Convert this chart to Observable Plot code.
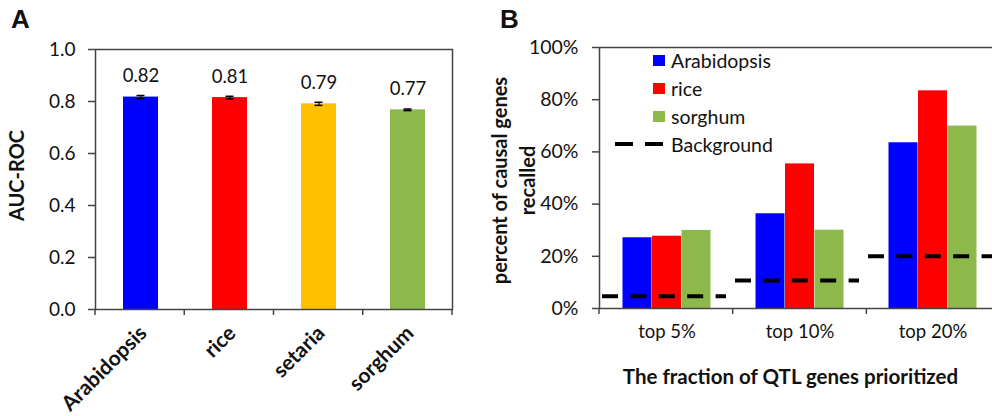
<!DOCTYPE html>
<html>
<head>
<meta charset="utf-8">
<script src="https://cdn.jsdelivr.net/npm/d3@7"></script>
<script src="https://cdn.jsdelivr.net/npm/@observablehq/plot@0.6"></script>
<style>
  html, body { margin: 0; padding: 0; background: #fff; }
  #wrap { position: relative; width: 992px; height: 416px; overflow: hidden; background: #fff; font-family: Lato, sans-serif; color: #111; }
  .panel { position: absolute; top: 0; height: 416px; }
  .panel svg { max-width: none !important; }
  .letter { position: absolute; font-family: "Liberation Sans", Arial, sans-serif; font-weight: bold; font-size: 26px; line-height: 26px; }
  .leg { position: absolute; left: 0; top: 0; }
  .row { position: absolute; height: 22px; display: flex; align-items: center; font-size: 19.5px; white-space: nowrap; }
  .sw { display: inline-block; width: 12px; height: 11px; margin-right: 6px; }
  .dash { display: inline-block; width: 48px; height: 4px; margin-right: 8px;
          background: linear-gradient(to right, #000 0 18px, transparent 18px 30px, #000 30px 48px); }
</style>
</head>
<body>
<div id="wrap">
  <div id="a" class="panel" style="left:0px; width:480px;"></div>
  <div id="b" class="panel" style="left:480px; width:520px;"></div>
  <div class="letter" style="left:11px; top:6px;">A</div>
  <div class="letter" style="left:500px; top:6px;">B</div>
  <div id="legend" class="leg"></div>
</div>
<script>
// ---------- Panel A data ----------
const speciesA = ["Arabidopsis", "rice", "setaria", "sorghum"];
const aucA = [0.817, 0.815, 0.791, 0.768];
const aucErrA = [0.006, 0.005, 0.006, 0.003];
const aucLabelsA = ["0.82", "0.81", "0.79", "0.77"];
const colorsA = ["#0000FF", "#FF0000", "#FFC000", "#8DB84C"];
const yTicksA = [0, 0.2, 0.4, 0.6, 0.8, 1.0];
const yTickLabelsA = ["0.0", "0.2", "0.4", "0.6", "0.8", "1.0"];

// ---------- Panel B data ----------
const groupsB = ["top 5%", "top 10%", "top 20%"];
const speciesB = ["Arabidopsis", "rice", "sorghum"];
const arabidopsisB = [27.1, 36.3, 63.5];
const riceB = [27.7, 55.4, 83.4];
const sorghumB = [29.9, 30.0, 69.9];
const backgroundB = [4.7, 10.7, 20.0];
const colorsB = ["#0000FF", "#FF0000", "#8DB84C"];
const yTicksB = [0, 20, 40, 60, 80, 100];
const yTickLabelsB = ["0%", "20%", "40%", "60%", "80%", "100%"];

const axisColor = "#444";

function boundaryTicks(n, len) {
  return (index, scales, values, dimensions) => {
    const {width, height, marginLeft, marginRight, marginBottom} = dimensions;
    const x0 = marginLeft, x1 = width - marginRight, y0 = height - marginBottom;
    const g = d3.create("svg:g").attr("stroke", axisColor).attr("stroke-width", 1.5);
    for (let i = 0; i <= n; i++) {
      const x = x0 + i * (x1 - x0) / n;
      g.append("line").attr("x1", x).attr("x2", x).attr("y1", y0).attr("y2", y0 + len);
    }
    return g.node();
  };
}

// ---------- Panel A ----------
const dataA = speciesA.map((s, i) => ({s, v: aucA[i], e: aucErrA[i], label: aucLabelsA[i]}));
const chartA = Plot.plot({
  width: 480, height: 416,
  marginLeft: 95, marginRight: 28, marginTop: 49, marginBottom: 107,
  style: {fontFamily: "Lato, sans-serif", fontSize: "18px", color: "#111", background: "transparent", maxWidth: "none"},
  x: {domain: speciesA, paddingInner: 0.61, paddingOuter: 0.305, axis: null},
  y: {domain: [0, 1], axis: null},
  color: {domain: speciesA, range: colorsA},
  marks: [
    Plot.barY(dataA, {x: "s", y: "v", fill: "s"}),
    Plot.ruleX(dataA, {x: "s", y1: d => d.v - d.e, y2: d => d.v + d.e, stroke: "#000", strokeWidth: 1.2}),
    Plot.tickY(dataA, {x: "s", y: d => d.v + d.e, stroke: "#000", strokeWidth: 1.5, insetLeft: 13.5, insetRight: 13.5}),
    Plot.tickY(dataA, {x: "s", y: d => d.v - d.e, stroke: "#000", strokeWidth: 1.5, insetLeft: 13.5, insetRight: 13.5}),
    Plot.text(dataA, {x: "s", y: d => d.v + d.e, text: "label", dy: -19.5, fontSize: 18.5}),
    Plot.axisY({ticks: yTicksA, tickFormat: (d, i) => yTickLabelsA[i], tickSize: 7, tickPadding: 13, stroke: axisColor, strokeWidth: 1.5, label: null, fontSize: 19}),
    Plot.frame({stroke: axisColor, strokeWidth: 1.5}),
    boundaryTicks(speciesA.length, 6),
    Plot.text(speciesA, {x: d => d, frameAnchor: "bottom", rotate: -45, textAnchor: "end", dx: 7, dy: 25, fontWeight: "bold", fontSize: 21}),
    Plot.text(["AUC-ROC"], {frameAnchor: "left", rotate: -90, textAnchor: "middle", dx: -78, dy: -4, fontWeight: "bold", fontSize: 20})
  ]
});
document.getElementById("a").appendChild(chartA);

// ---------- Panel B ----------
const seriesB = [arabidopsisB, riceB, sorghumB];
const outer = 22.5, bw = 29.5;
const barMarksB = speciesB.map((s, k) => Plot.barY(
  groupsB.map((g, i) => ({g, v: seriesB[k][i]})),
  {x: "g", y: "v", fill: colorsB[k], insetLeft: outer + k * bw, insetRight: outer + (2 - k) * bw}
));
const bgData = groupsB.map((g, i) => ({g, v: backgroundB[i]}));
const chartB = Plot.plot({
  width: 520, height: 416,
  marginLeft: 119, marginRight: 0, marginTop: 47, marginBottom: 108,
  style: {fontFamily: "Lato, sans-serif", fontSize: "18px", color: "#111", background: "transparent", maxWidth: "none"},
  x: {domain: groupsB, padding: 0, axis: null},
  y: {domain: [0, 100], axis: null},
  marks: [
    ...barMarksB,
    Plot.ruleY(bgData, {x1: "g", x2: "g", y: "v", stroke: "#000", strokeWidth: 4, strokeDasharray: "16,12.4", insetLeft: 2, insetRight: 7}),
    Plot.axisY({ticks: yTicksB, tickFormat: (d, i) => yTickLabelsB[i], tickSize: 7, tickPadding: 14, stroke: axisColor, strokeWidth: 1.5, label: null, fontSize: 19.5}),
    Plot.frame({stroke: axisColor, strokeWidth: 1.5}),
    boundaryTicks(groupsB.length, 6),
    Plot.text(groupsB, {x: d => d, frameAnchor: "bottom", dy: 29, fontSize: 18.5}),
    Plot.text(["The fraction of QTL genes prioritized"], {frameAnchor: "bottom", dy: 75, dx: -9.5, fontWeight: "bold", fontSize: 20.5}),
    Plot.text(["percent of causal genes\nrecalled"], {frameAnchor: "left", rotate: -90, textAnchor: "middle", dx: -87.5, dy: 2.5, lineHeight: 1.4, fontWeight: "bold", fontSize: 20})
  ]
});
document.getElementById("b").appendChild(chartB);

// ---------- Legend (panel B) ----------
const legendItems = speciesB.map((s, k) => ({label: s, color: colorsB[k], type: "swatch"}))
  .concat([{label: "Background", type: "dash"}]);
const legend = d3.select("#legend");
legendItems.forEach((d, i) => {
  const row = legend.append("div").attr("class", "row")
    .style("top", (49 + i * 28) + "px")
    .style("left", d.type === "dash" ? "615px" : "653px");
  if (d.type === "dash") row.append("span").attr("class", "dash");
  else row.append("span").attr("class", "sw").style("background", d.color);
  row.append("span").text(d.label);
});
</script>
</body>
</html>
